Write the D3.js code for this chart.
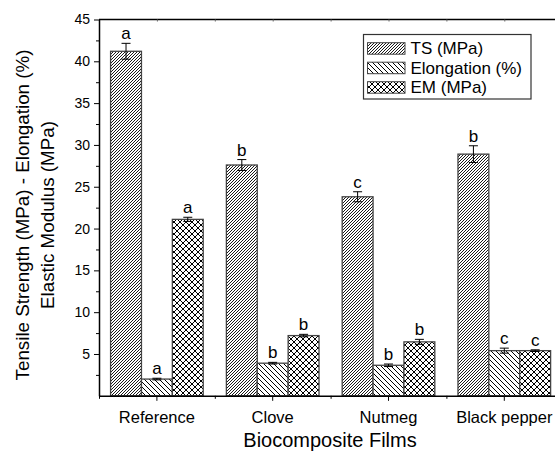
<!DOCTYPE html>
<html>
<head>
<meta charset="utf-8">
<script src="https://cdn.jsdelivr.net/npm/d3@7"></script>
<style>
  body { margin: 0; background: #fff; }
  svg { display: block; font-family: Arial, "Liberation Sans", sans-serif; }
</style>
</head>
<body>
<svg id="chart" width="555" height="452"></svg>
<script>
const categories = ["Reference", "Clove", "Nutmeg", "Black pepper"];
const seriesNames = ["TS (MPa)", "Elongation (%)", "EM (MPa)"];
const tsValues = [41.2, 27.6, 23.8, 28.9];
const tsErrors = [0.95, 0.65, 0.6, 1.0];
const elongValues = [2.0, 3.9, 3.65, 5.4];
const elongErrors = [0.1, 0.1, 0.15, 0.3];
const emValues = [21.1, 7.2, 6.45, 5.4];
const emErrors = [0.25, 0.15, 0.3, 0.1];
const tsLetters = ["a", "b", "c", "b"];
const elongLetters = ["a", "b", "b", "c"];
const emLetters = ["a", "b", "b", "c"];
const yTicks = [5, 10, 15, 20, 25, 30, 35, 40, 45];

(function () {
const series = [
  { name: seriesNames[0], values: tsValues, errors: tsErrors, letters: tsLetters, fill: "url(#patTS)" },
  { name: seriesNames[1], values: elongValues, errors: elongErrors, letters: elongLetters, fill: "url(#patEL)" },
  { name: seriesNames[2], values: emValues, errors: emErrors, letters: emLetters, fill: "url(#patEM)" }
];

const svg = d3.select("#chart");
const mLeft = 99, mTop = 19.5, mBottom = 395.8, step = 115.8;
const mRight = mLeft + step * categories.length;

const defs = svg.append("defs");
const p1 = defs.append("pattern").attr("id", "patTS").attr("patternUnits", "userSpaceOnUse")
  .attr("width", 3).attr("height", 3);
p1.append("rect").attr("width", 3).attr("height", 3).attr("fill", "#fff");
p1.append("path").attr("d", "M-1,1 L1,-1 M0,3 L3,0 M2,4 L4,2").attr("stroke", "#000").attr("stroke-width", 0.9);
const p2 = defs.append("pattern").attr("id", "patEL").attr("patternUnits", "userSpaceOnUse")
  .attr("width", 5).attr("height", 5);
p2.append("rect").attr("width", 5).attr("height", 5).attr("fill", "#fff");
p2.append("path").attr("d", "M-1,4 L1,6 M0,0 L5,5 M4,-1 L6,1").attr("stroke", "#000").attr("stroke-width", 1);
const p3 = defs.append("pattern").attr("id", "patEM").attr("patternUnits", "userSpaceOnUse")
  .attr("width", 6).attr("height", 6);
p3.append("rect").attr("width", 6).attr("height", 6).attr("fill", "#fff");
p3.append("path").attr("d", "M0,0 L6,6 M-1,5 L1,7 M5,-1 L7,1 M0,6 L6,0 M-1,1 L1,-1 M5,7 L7,5").attr("stroke", "#000").attr("stroke-width", 1);

const x0 = d3.scaleBand().domain(categories).range([mLeft, mRight]).paddingInner(0).paddingOuter(0);
const x1 = d3.scaleBand().domain(seriesNames).range([0.1 * step, 0.9 * step]).padding(0);
const y = d3.scaleLinear().domain([0, 45]).range([mBottom, mTop]);

series.forEach(s => {
  const g = svg.append("g");
  categories.forEach((c, i) => {
    const bx = x0(c) + x1(s.name);
    const bw = x1.bandwidth();
    g.append("rect")
      .attr("x", bx).attr("y", y(s.values[i]))
      .attr("width", bw).attr("height", y(0) - y(s.values[i]))
      .attr("fill", s.fill).attr("stroke", "#444").attr("stroke-width", 1.3);
    const cx = bx + bw / 2;
    const yTop = y(s.values[i] + s.errors[i]);
    const yBot = y(s.values[i] - s.errors[i]);
    g.append("line").attr("x1", cx).attr("x2", cx).attr("y1", yTop).attr("y2", yBot)
      .attr("stroke", "#000").attr("stroke-width", 1);
    [yTop, yBot].forEach(yy => g.append("line").attr("x1", cx - 4.5).attr("x2", cx + 4.5)
      .attr("y1", yy).attr("y2", yy).attr("stroke", "#000").attr("stroke-width", 1));
    g.append("text").attr("x", cx).attr("y", yTop - 4).attr("text-anchor", "middle")
      .attr("font-size", 17).attr("fill", "#000").text(s.letters[i]);
  });
});

const yAxis = svg.append("g").attr("transform", `translate(${mLeft},0)`)
  .call(d3.axisLeft(y).tickValues(yTicks).tickSize(5).tickPadding(4).tickSizeOuter(0));
yAxis.select(".domain").attr("stroke-width", 1.5);
yAxis.selectAll("text").attr("font-size", 14).attr("fill", "#000").attr("font-family", "Arial, 'Liberation Sans', sans-serif");
const yMinor = d3.range(2.5, 45, 5);
svg.append("g").attr("transform", `translate(${mLeft},0)`)
  .call(d3.axisLeft(y).tickValues(yMinor).tickSize(3).tickFormat(""))
  .call(g => g.select(".domain").remove());

const xAxis = svg.append("g").attr("transform", `translate(0,${mBottom})`)
  .call(d3.axisBottom(x0).tickSize(5).tickPadding(10).tickSizeOuter(0));
xAxis.select(".domain").attr("stroke-width", 1.5);
xAxis.selectAll("text").attr("font-size", 16.5).attr("fill", "#000").attr("font-family", "Arial, 'Liberation Sans', sans-serif");
const xMinor = d3.scaleLinear().domain([0, categories.length]).range([mLeft, mRight]);
svg.append("g").attr("transform", `translate(0,${mBottom})`)
  .call(d3.axisBottom(xMinor).tickValues(d3.range(0, categories.length + 1)).tickSize(3).tickFormat(""))
  .call(g => g.select(".domain").remove());

svg.append("line").attr("x1", mLeft).attr("x2", mRight).attr("y1", mTop).attr("y2", mTop)
  .attr("stroke", "#000").attr("stroke-width", 1.5);
svg.append("g").attr("transform", `translate(0,${mTop})`)
  .call(d3.axisBottom(xMinor).tickValues(d3.range(0.5, categories.length + 0.5, 0.5)).tickSize(2).tickFormat(""))
  .call(g => g.select(".domain").remove())
  .selectAll("line").attr("stroke", "#666");

svg.append("text").attr("transform", "translate(29,215) rotate(-90)").attr("text-anchor", "middle")
  .attr("font-size", 18.8).attr("fill", "#000").text("Tensile Strength (MPa) - Elongation (%)");
svg.append("text").attr("transform", "translate(53.5,215) rotate(-90)").attr("text-anchor", "middle")
  .attr("font-size", 18.8).attr("fill", "#000").text("Elastic Modulus (MPa)");
svg.append("text").attr("x", 330).attr("y", 447).attr("text-anchor", "middle")
  .attr("font-size", 20).attr("fill", "#000").text("Biocomposite Films");

const lg = svg.append("g");
lg.append("rect").attr("x", 363.5).attr("y", 34.5).attr("width", 167.5).attr("height", 64.5)
  .attr("fill", "#fff").attr("stroke", "#333").attr("stroke-width", 1.2);
series.forEach((s, i) => {
  const ry = 42.7 + i * 19.5;
  lg.append("rect").attr("x", 367.5).attr("y", ry).attr("width", 37.5).attr("height", 11.5)
    .attr("fill", s.fill).attr("stroke", "#444").attr("stroke-width", 1);
  lg.append("text").attr("x", 410.5).attr("y", ry + 11.5).attr("font-size", 17).attr("fill", "#000").text(s.name);
});
})();
</script>
</body>
</html>
